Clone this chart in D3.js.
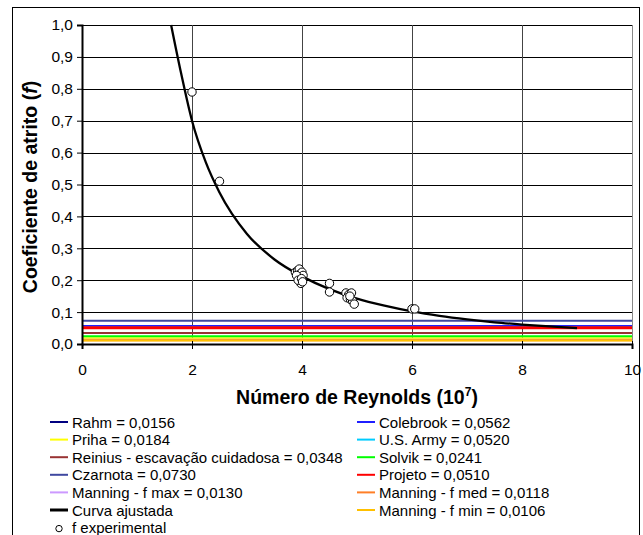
<!DOCTYPE html>
<html>
<head>
<meta charset="utf-8">
<script src="https://cdn.jsdelivr.net/npm/d3@7"></script>
<style>
body { margin: 0; background: #fff; }
svg { font-family: "Liberation Sans", Arial, sans-serif; }
</style>
</head>
<body>
<svg width="643" height="535"></svg>
<script>
// ---------------- data ----------------
var refNames = ["Rahm", "Colebrook", "Priha", "U.S. Army", "Reinius - escavação cuidadosa", "Solvik",
                "Czarnota", "Projeto", "Manning - f max", "Manning - f med", "Manning - f min"];
var refValues = [0.0156, 0.0562, 0.0184, 0.0520, 0.0348, 0.0241, 0.0730, 0.0510, 0.0130, 0.0118, 0.0106];
var refColors = ["#000080", "#1f1fff", "#ffff00", "#00ccff", "#993333", "#00ff00",
                 "#3f48a0", "#ff0000", "#cc99ff", "#ff7f27", "#ffc000"];

var curveRe = [1.62, 1.8, 2.0, 2.25, 2.5, 3.0, 3.5, 4.0, 4.5, 5.0, 5.5, 6.0, 6.5, 7.0, 7.5, 8.0, 8.5, 9.0];
var curveF  = [1.0, 0.85, 0.70, 0.57, 0.475, 0.345, 0.265, 0.212, 0.172, 0.142, 0.120, 0.102, 0.088, 0.077, 0.068, 0.061, 0.055, 0.050];

var expRe = [2.0, 2.5, 3.88, 3.92, 3.95, 3.97, 4.0, 3.95, 4.0, 3.98, 4.02, 3.9, 3.93, 3.99, 4.01,
             4.5, 4.5, 4.8, 4.85, 4.9, 4.82, 4.88, 4.92, 4.95, 4.87, 6.0, 6.05];
var expF  = [0.79, 0.51, 0.225, 0.23, 0.235, 0.22, 0.225, 0.21, 0.2, 0.19, 0.215, 0.215, 0.2, 0.205, 0.195,
             0.19, 0.163, 0.16, 0.155, 0.16, 0.145, 0.14, 0.135, 0.125, 0.15, 0.11, 0.11];

var xTicks = [0, 2, 4, 6, 8, 10];
var yTicks = [0, 0.1, 0.2, 0.3, 0.4, 0.5, 0.6, 0.7, 0.8, 0.9, 1.0];

function draw() {
var pLeft = 82, pRight = 632, pTop = 25, pBottom = 344;
var svg = d3.select("svg");

svg.append("rect").attr("x", 12.5).attr("y", 7.5).attr("width", 627).attr("height", 540)
    .attr("fill", "none").attr("stroke", "#000").attr("stroke-width", 1);

var xs = d3.scaleLinear().domain([0, 10]).range([pLeft, pRight]);
var ys = d3.scaleLinear().domain([0, 1]).range([pBottom, pTop]);
var comma = function(d) { return d3.format(".1f")(d).replace(".", ","); };

// grid
svg.append("g").selectAll("line").data(yTicks.slice(1)).enter().append("line")
    .attr("x1", pLeft).attr("x2", pRight)
    .attr("y1", d => Math.round(ys(d)) + 0.5).attr("y2", d => Math.round(ys(d)) + 0.5)
    .attr("stroke", "#000").attr("stroke-width", 1);
svg.append("g").selectAll("line").data(xTicks.slice(1, 5)).enter().append("line")
    .attr("x1", d => Math.round(xs(d)) + 0.5).attr("x2", d => Math.round(xs(d)) + 0.5)
    .attr("y1", pTop).attr("y2", pBottom)
    .attr("stroke", "#444").attr("stroke-width", 1);
svg.append("line").attr("x1", pRight + 0.5).attr("x2", pRight + 0.5).attr("y1", pTop).attr("y2", pBottom)
    .attr("stroke", "#888");

// reference lines
var refs = refNames.map((n, i) => ({ name: n, v: refValues[i], c: refColors[i] }));
svg.append("g").selectAll("line").data(refs).enter().append("line")
    .attr("x1", xs(0)).attr("x2", xs(10))
    .attr("y1", d => ys(d.v)).attr("y2", d => ys(d.v))
    .attr("stroke", d => d.c)
    .attr("stroke-width", d => d.name == "Projeto" ? 3 : 2);

// fitted curve
var line = d3.line().x(d => xs(d[0])).y(d => ys(d[1])).curve(d3.curveMonotoneX);
svg.append("path").datum(d3.zip(curveRe, curveF))
    .attr("d", line).attr("fill", "none").attr("stroke", "#000").attr("stroke-width", 2.3);

// experimental points
svg.append("g").selectAll("circle").data(d3.zip(expRe, expF)).enter().append("circle")
    .attr("cx", d => xs(d[0])).attr("cy", d => ys(d[1])).attr("r", 4.2)
    .attr("fill", "#fff").attr("stroke", "#000").attr("stroke-width", 1);

// axes
var yAxis = svg.append("g").attr("transform", "translate(" + pLeft + ",0)")
    .call(d3.axisLeft(ys).tickValues(yTicks).tickFormat(comma).tickSizeOuter(0).tickSize(5));
yAxis.select(".domain").attr("stroke-width", 2);
yAxis.selectAll("text").attr("font-size", 15.5).attr("fill", "#000").attr("dx", -1);

var xAxis = svg.append("g").attr("transform", "translate(0," + pBottom + ")")
    .call(d3.axisBottom(xs).tickValues(xTicks).tickFormat(d3.format("d")).tickSizeOuter(0).tickSize(5));
xAxis.select(".domain").attr("stroke-width", 2);
xAxis.selectAll(".tick line").attr("y1", -3);
xAxis.selectAll("text").attr("font-size", 15.5).attr("fill", "#000").attr("dy", "1.5em");

// axis titles
var xt = svg.append("text").attr("x", 357).attr("y", 404).attr("text-anchor", "middle")
    .attr("font-size", 19.5).attr("font-weight", "bold");
xt.append("tspan").text("Número de Reynolds (10");
xt.append("tspan").attr("font-size", 12).attr("dy", -8).text("7");
xt.append("tspan").attr("dy", 8).text(")");

var yt = svg.append("text").attr("transform", "translate(37,187) rotate(-90)").attr("text-anchor", "middle")
    .attr("font-size", 19.5).attr("font-weight", "bold");
yt.append("tspan").text("Coeficiente de atrito (");
yt.append("tspan").attr("font-style", "italic").text("f");
yt.append("tspan").text(")");

// legend
var fmt4 = d => d3.format(".4f")(d).replace(".", ",");
var items = refs.map(d => ({ label: d.name + " = " + fmt4(d.v), c: d.c, type: "line" }));
items.splice(10, 0, { label: "Curva ajustada", c: "#000", type: "curve" });
items.push({ label: "f experimental", type: "point" });

var lg = svg.append("g").attr("font-size", 15);
items.forEach(function(it, i) {
    var col = i % 2, row = Math.floor(i / 2);
    var x0 = col == 0 ? 50 : 357, y0 = 422 + row * 17.6;
    if (it.type == "point") {
        lg.append("circle").attr("cx", x0 + 9).attr("cy", y0 + 1).attr("r", 3.2)
            .attr("fill", "#fff").attr("stroke", "#000");
    } else {
        lg.append("line").attr("x1", x0).attr("x2", x0 + 18).attr("y1", y0).attr("y2", y0)
            .attr("stroke", it.c).attr("stroke-width", it.type == "curve" ? 3 : 2);
    }
    lg.append("text").attr("x", x0 + 22).attr("y", y0 + 5.5).text(it.label);
});
}
draw();
</script>
</body>
</html>
